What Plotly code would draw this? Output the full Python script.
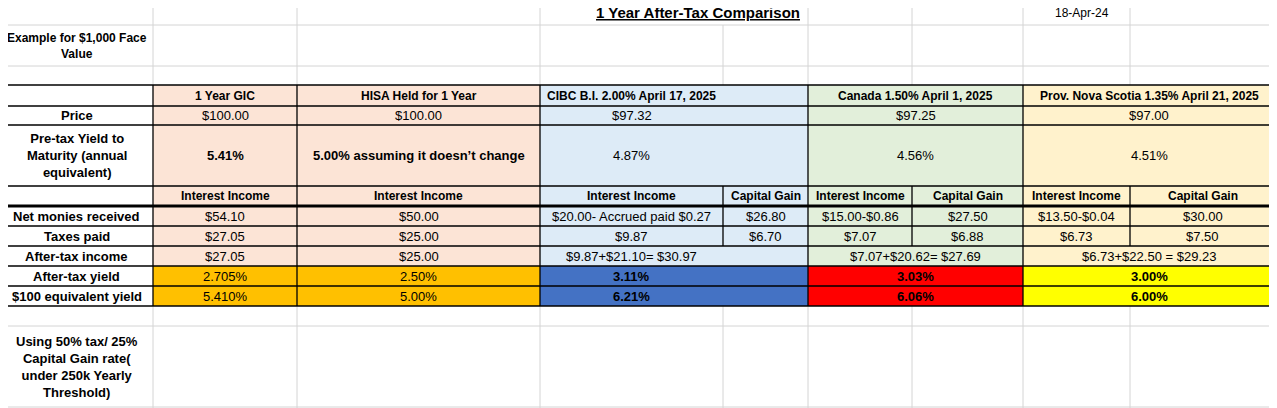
import plotly.graph_objects as go

# column / row grid of the sheet (pixel edges)
col_edges = [0, 153, 297, 540, 723, 808, 912, 1023, 1130, 1275]
row_edges = [0, 25, 66, 85, 106, 125, 186, 206, 226, 246, 266, 286, 306, 326, 408]

title = "1 Year After-Tax Comparison"
date_label = "18-Apr-24"
face_note = "Example for $1,000 Face<br>Value"
tax_note = "Using 50% tax/ 25%<br>Capital Gain rate(<br>under 250k Yearly<br>Threshold)"

products = ["1 Year GIC", "HISA Held for 1 Year", "CIBC B.I. 2.00% April 17, 2025",
            "Canada 1.50% April 1, 2025", "Prov. Nova Scotia 1.35% April 21, 2025"]
row_labels = ["Price", "Pre-tax Yield to<br>Maturity (annual<br>equivalent)", "",
              "Net monies received", "Taxes paid", "After-tax income",
              "After-tax yield", "$100 equivalent yield"]
prices = ["$100.00", "$100.00", "$97.32", "$97.25", "$97.00"]
pretax_yield = ["5.41%", "5.00% assuming it doesn\u2019t change", "4.87%", "4.56%", "4.51%"]
sub_heads = ["Interest Income", "Interest Income", "Interest Income", "Capital Gain",
             "Interest Income", "Capital Gain", "Interest Income", "Capital Gain"]
net_monies = ["$54.10", "$50.00", "$20.00- Accrued paid $0.27", "$26.80",
              "$15.00-$0.86", "$27.50", "$13.50-$0.04", "$30.00"]
taxes_paid = ["$27.05", "$25.00", "$9.87", "$6.70", "$7.07", "$6.88", "$6.73", "$7.50"]
after_tax_income = ["$27.05", "$25.00", "$9.87+$21.10= $30.97",
                    "$7.07+$20.62= $27.69", "$6.73+$22.50 = $29.23"]
after_tax_yield = ["2.705%", "2.50%", "3.11%", "3.03%", "3.00%"]
equiv_yield = ["5.410%", "5.00%", "6.21%", "6.06%", "6.00%"]

light = ["#FCE4D6", "#FCE4D6", "#DDEBF7", "#E2EFDA", "#FFF2CC"]
strong = ["#FFC000", "#FFC000", "#4472C4", "#FF0000", "#FFFF00"]
strong_bold = [False, False, True, True, True]

FONT = "Liberation Sans Narrow, Arial Narrow, Liberation Sans, Arial"
C = col_edges
R = row_edges

fig = go.Figure()
shapes, annos = [], []


def cell(x0, x1, y0, y1, text, fill=None, bold=False, tx=None, size=13):
    if fill:
        shapes.append(dict(type="rect", x0=x0, x1=x1, y0=y0, y1=y1, fillcolor=fill,
                           line=dict(width=0), layer="below"))
    if text:
        t = "<b>%s</b>" % text if bold else text
        annos.append(dict(x=tx if tx is not None else (x0 + x1) / 2, y=(y0 + y1) / 2,
                          text=t, showarrow=False, xanchor="center", yanchor="middle",
                          font=dict(family=FONT, size=size, color="black")))


# product spans: GIC, HISA, CIBC, Canada, NS
spans = [(C[1], C[2]), (C[2], C[3]), (C[3], C[5]), (C[5], C[7]), (C[7], C[9])]
# CIBC text sits centred in its first column
text_x = [None, None, (C[3] + C[4]) / 2, None, None]
sub_spans = [(C[i], C[i + 1]) for i in range(1, 9)]
sub_fill = [light[0], light[1], light[2], light[2], light[3], light[3], light[4], light[4]]

# grid lines outside the table (light gray)
for x in C:
    top = R[1] if x == C[4] else R[0]
    shapes.append(dict(type="line", x0=x, x1=x, y0=top, y1=R[3], line=dict(color="#D4D4D4", width=1)))
    shapes.append(dict(type="line", x0=x, x1=x, y0=R[12], y1=R[14], line=dict(color="#D4D4D4", width=1)))
for y in [R[1], R[2], R[13], R[14] - 1]:
    shapes.append(dict(type="line", x0=0, x1=C[9], y0=y, y1=y, line=dict(color="#D4D4D4", width=1)))

annos.append(dict(x=(C[3] + C[5]) / 2 + 24, y=(R[0] + R[1]) / 2, text="<b><u>%s</u></b>" % title,
                  showarrow=False, font=dict(family=FONT, size=15, color="black")))
annos.append(dict(x=C[7] + 88, y=(R[0] + R[1]) / 2, text=date_label, xanchor="right",
                  showarrow=False, font=dict(family=FONT, size=12, color="black")))
cell(C[0], C[1], R[1], R[2], face_note, bold=True, size=12)
cell(C[0], C[1], R[13], R[14], tax_note, bold=True, size=13)

# header row
for (x0, x1), p, f, tx in zip(spans, products, light, text_x):
    cell(x0, x1, R[3], R[4], p, f, True, tx, size=12)
# row labels
for i, lab in enumerate(row_labels):
    cell(C[0], C[1], R[4 + i], R[5 + i], lab, "white", True)
for (x0, x1), v, f, tx in zip(spans, prices, light, text_x):
    cell(x0, x1, R[4], R[5], v, f, False, tx)
for i, ((x0, x1), v, f, tx) in enumerate(zip(spans, pretax_yield, light, text_x)):
    cell(x0, x1, R[5], R[6], v, f, i < 2, tx)
for (x0, x1), v, f in zip(sub_spans, sub_heads, sub_fill):
    cell(x0, x1, R[6], R[7], v, f, True, size=12)
for (x0, x1), v, f in zip(sub_spans, net_monies, sub_fill):
    cell(x0, x1, R[7], R[8], v, f)
for (x0, x1), v, f in zip(sub_spans, taxes_paid, sub_fill):
    cell(x0, x1, R[8], R[9], v, f)
for (x0, x1), v, f, tx in zip(spans, after_tax_income, light, text_x):
    cell(x0, x1, R[9], R[10], v, f, False, tx)
for (x0, x1), v, f, tx, b in zip(spans, after_tax_yield, strong, text_x, strong_bold):
    cell(x0, x1, R[10], R[11], v, f, b, tx)
for (x0, x1), v, f, tx, b in zip(spans, equiv_yield, strong, text_x, strong_bold):
    cell(x0, x1, R[11], R[12], v, f, b, tx)

# table borders (black)
blk = dict(color="black", width=1.3)
for y in R[3:13]:
    w = 3 if y == R[7] else 1.3
    shapes.append(dict(type="line", x0=0, x1=C[9], y0=y, y1=y, line=dict(color="black", width=w)))
for x in [C[0], C[1], C[2], C[3], C[5], C[7], C[9]]:
    shapes.append(dict(type="line", x0=x, x1=x, y0=R[3], y1=R[12], line=blk))
for x in [C[4], C[6], C[8]]:
    shapes.append(dict(type="line", x0=x, x1=x, y0=R[6], y1=R[9], line=blk))

# the page body adds an 8px offset, so the axes start at 8 to keep pixel alignment
fig.update_layout(
    width=1269, height=400, margin=dict(l=0, r=0, t=0, b=0),
    plot_bgcolor="white", paper_bgcolor="white",
    xaxis=dict(range=[8, 1277], visible=False, fixedrange=True),
    yaxis=dict(range=[408, 8], visible=False, fixedrange=True),
    shapes=shapes, annotations=annos, showlegend=False,
)

fig.write_html("out.html")
